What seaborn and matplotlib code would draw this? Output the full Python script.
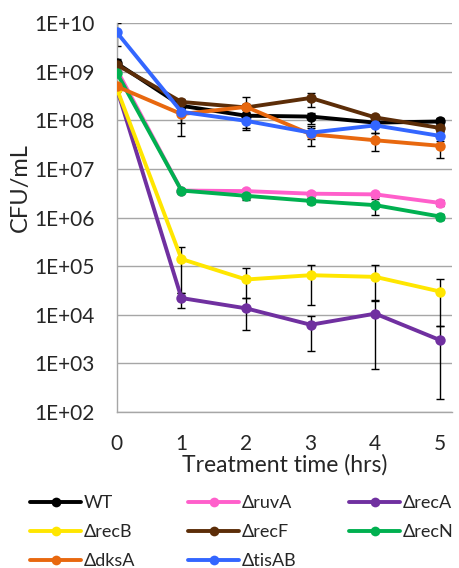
import numpy as np
import pandas as pd
import seaborn as sns
import matplotlib.pyplot as plt

time = [0, 1, 2, 3, 4, 5]

strains = ['WT', 'ΔruvA', 'ΔrecA', 'ΔrecB', 'ΔrecF', 'ΔrecN', 'ΔdksA', 'ΔtisAB']
colors = ['#000000', '#FF5FCB', '#7030A0', '#FFE600', '#5C2D08', '#00B050', '#E8680F', '#3366FF']

wt = [1.5e9, 2.0e8, 1.25e8, 1.2e8, 9.0e7, 9.5e7]
ruvA = [1.1e9, 3.6e6, 3.5e6, 3.1e6, 3.0e6, 2.0e6]
recA = [4.5e8, 2.2e4, 1.35e4, 6.2e3, 1.05e4, 3.0e3]
recB = [4.5e8, 1.4e5, 5.3e4, 6.5e4, 6.0e4, 3.0e4]
recF = [1.4e9, 2.4e8, 1.85e8, 2.9e8, 1.15e8, 7.0e7]
recN = [9.5e8, 3.6e6, 2.8e6, 2.2e6, 1.8e6, 1.05e6]
dksA = [5.0e8, 1.35e8, 1.9e8, 5.2e7, 3.9e7, 3.0e7]
tisAB = [6.5e9, 1.5e8, 9.8e7, 5.6e7, 7.9e7, 4.8e7]

nan = np.nan
# error bar ends (lower, upper)
wt_lo = [1.3e9, 1.6e8, 1.1e8, 8.3e7, 8.0e7, 8.0e7]
wt_hi = [1.8e9, 2.5e8, 1.4e8, 1.45e8, 1.0e8, 1.1e8]
ruvA_lo = [nan, 3.3e6, 3.1e6, 2.8e6, 2.6e6, 1.7e6]
ruvA_hi = [nan, 3.9e6, 3.9e6, 3.4e6, 3.2e6, 2.3e6]
recA_lo = [nan, 1.35e4, 4.8e3, 1.75e3, 7.5e2, 1.8e2]
recA_hi = [nan, 2.8e4, 2.2e4, 9.6e3, 1.9e4, 5.8e3]
recB_lo = [nan, 2.8e4, 2.2e4, 1.55e4, 2.0e4, 5.8e3]
recB_hi = [nan, 2.5e5, 9.0e4, 1.07e5, 1.07e5, 5.5e4]
recF_lo = [1.2e9, 2.0e8, 1.5e8, 1.9e8, 1.0e8, 6.0e7]
recF_hi = [1.6e9, 2.8e8, 2.2e8, 3.7e8, 1.3e8, 8.0e7]
recN_lo = [nan, 3.3e6, 2.3e6, 1.9e6, 1.15e6, 8.8e5]
recN_hi = [nan, 3.9e6, 3.3e6, 2.5e6, 2.4e6, 1.2e6]
dksA_lo = [4.0e8, 4.8e7, 7.0e7, 3.0e7, 2.3e7, 1.65e7]
dksA_hi = [6.0e8, 2.2e8, 3.1e8, 7.5e7, 5.5e7, 4.4e7]
tisAB_lo = [3.4e9, 8.7e7, 6.2e7, 4.2e7, 5.4e7, 3.8e7]
tisAB_hi = [1.0e10, 2.1e8, 1.3e8, 7.0e7, 1.0e8, 5.8e7]

values = [wt, ruvA, recA, recB, recF, recN, dksA, tisAB]
lows = [wt_lo, ruvA_lo, recA_lo, recB_lo, recF_lo, recN_lo, dksA_lo, tisAB_lo]
highs = [wt_hi, ruvA_hi, recA_hi, recB_hi, recF_hi, recN_hi, dksA_hi, tisAB_hi]

ytick_vals = [1e2, 1e3, 1e4, 1e5, 1e6, 1e7, 1e8, 1e9, 1e10]
ytick_labels = ['1E+02', '1E+03', '1E+04', '1E+05', '1E+06', '1E+07', '1E+08', '1E+09', '1E+10']

df = pd.DataFrame({
    'time': time * len(strains),
    'cfu': np.concatenate(values),
    'strain': np.repeat(strains, len(time)),
})

sns.set_style('white')
plt.rcParams['font.family'] = ['Lato', 'DejaVu Sans']

fig = plt.figure(figsize=(4.6, 5.68), dpi=100)
ax = fig.add_axes([0.254, 0.275, 0.729, 0.684])

# error bars underneath
for v, lo, hi in zip(values, lows, highs):
    v = np.array(v)
    lo = np.array(lo)
    hi = np.array(hi)
    ok = ~np.isnan(lo)
    ax.errorbar(np.array(time)[ok], v[ok], yerr=[v[ok] - lo[ok], hi[ok] - v[ok]],
                fmt='none', ecolor='black', elinewidth=1, capsize=3, capthick=1, zorder=2)

sns.lineplot(data=df, x='time', y='cfu', hue='strain', palette=dict(zip(strains, colors)),
             marker='o', markersize=7.5, markeredgewidth=0, linewidth=2.8, ax=ax, legend=False,
             zorder=3)

ax.set_yscale('log')
ax.set_ylim(1e2, 1e10)
ax.set_xlim(0, 5.19)
ax.set_yticks(ytick_vals)
ax.set_yticklabels(ytick_labels)
ax.minorticks_off()
ax.set_xticks(time)
ax.grid(axis='y', color='#A6A6A6', linewidth=1)
ax.set_axisbelow(True)
for s in ['top', 'right']:
    ax.spines[s].set_visible(False)
for s in ['left', 'bottom']:
    ax.spines[s].set_color('#A6A6A6')
    ax.spines[s].set_linewidth(1)
ax.tick_params(axis='both', direction='out', length=5, width=1, color='#A6A6A6',
               labelsize=15)
ax.tick_params(axis='y', pad=11)
ax.tick_params(axis='x', pad=11)
ax.set_xlabel('Treatment time (hrs)', fontsize=16.5, labelpad=0)
ax.set_ylabel('CFU/mL', fontsize=17)
ax.yaxis.set_label_coords(-0.255, 0.578)

# legend, row-wise order like the original
handles = [plt.Line2D([], [], color=c, marker='o', markersize=7, markeredgewidth=0, linewidth=2.8)
           for c in colors]
order = [0, 3, 6, 1, 4, 7, 2, 5]
fig.legend([handles[i] for i in order], [strains[i] for i in order], ncol=3,
           loc='upper left', bbox_to_anchor=(0.066, 0.128), frameon=False,
           fontsize=13, handlelength=2.8, handletextpad=0.15, columnspacing=2.95,
           labelspacing=0.72, borderpad=0, borderaxespad=0)

fig.savefig('out.png', dpi=100)
